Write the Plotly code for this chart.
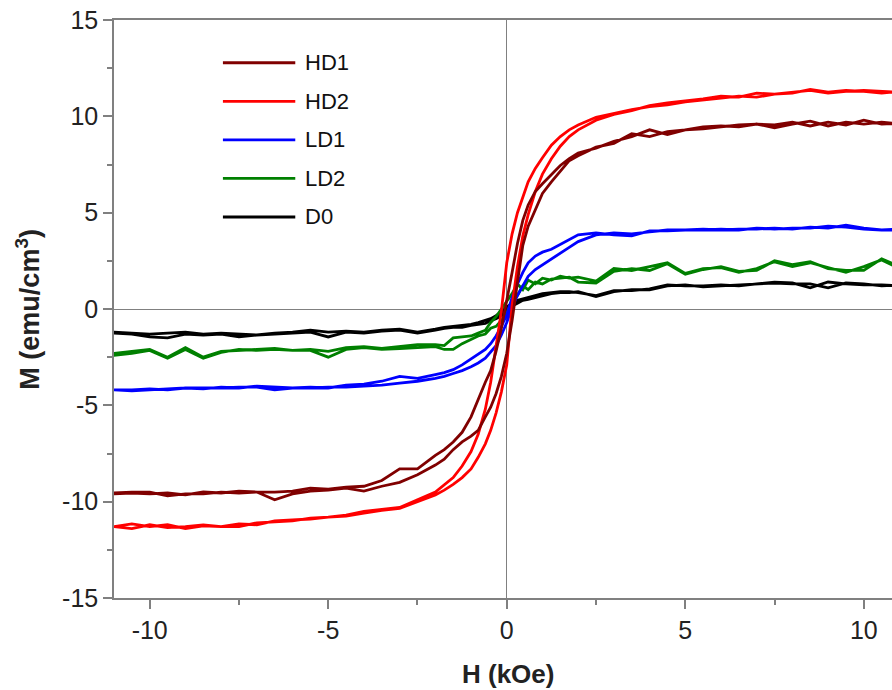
import plotly.graph_objects as go

# field grid (kOe), shared by both branches of every loop
H = [-11, -10.5, -10, -9.5, -9, -8.5, -8, -7.5, -7, -6.5, -6, -5.5, -5, -4.5, -4, -3.5, -3, -2.5, -2,
     -1.75, -1.5, -1.25, -1, -0.8, -0.6, -0.45, -0.3, -0.15, 0, 0.15, 0.3, 0.45, 0.6, 0.8, 1, 1.25, 1.5, 1.75,
     2, 2.5, 3, 3.5, 4, 4.5, 5, 5.5, 6, 6.5, 7, 7.5, 8, 8.5, 9, 9.5, 10, 10.5, 11]

# magnetisation (emu/cm3): *_down = branch swept from +H to -H, *_up = branch swept from -H to +H
HD1_down = [-9.55, -9.5, -9.5, -9.7, -9.6, -9.6, -9.5, -9.55, -9.5, -9.5, -9.45, -9.3, -9.35, -9.25, -9.2, -8.9,
            -8.3, -8.3, -7.6, -7.3, -6.9, -6.4, -5.6, -4.7, -3.8, -3.2, -2.2, -1.0, 0.5, 1.9, 3.4, 4.6, 5.4, 6.1,
            6.5, 7.0, 7.45, 7.8, 8.1, 8.35, 8.7, 8.95, 9.3, 9.05, 9.3, 9.45, 9.5, 9.45, 9.6, 9.55, 9.7, 9.5, 9.7,
            9.55, 9.8, 9.6, 9.65]
HD1_up = [-9.6, -9.55, -9.6, -9.55, -9.65, -9.5, -9.55, -9.45, -9.5, -9.9, -9.6, -9.45, -9.4, -9.3, -9.45, -9.2,
          -9.0, -8.6, -8.1, -7.8, -7.3, -6.9, -6.6, -6.3, -5.6, -5.1, -4.4, -3.5, -2.3, -0.6, 1.4, 3.3, 4.3, 5.2,
          6.0, 6.6, 7.15, 7.7, 7.95, 8.4, 8.6, 9.1, 8.95, 9.2, 9.3, 9.35, 9.45, 9.55, 9.6, 9.4, 9.6, 9.75, 9.5,
          9.7, 9.6, 9.7, 9.6]

HD2_down = [-11.3, -11.15, -11.3, -11.2, -11.4, -11.25, -11.3, -11.3, -11.1, -11.05, -11.0, -10.85, -10.8,
            -10.7, -10.5, -10.4, -10.3, -9.9, -9.5, -9.15, -8.75, -8.15, -7.4, -6.5, -5.2, -3.8, -2.0, -0.1,
            2.4, 3.9, 5.0, 5.8, 6.6, 7.3, 7.85, 8.5, 8.95, 9.3, 9.55, 9.95, 10.15, 10.35, 10.5, 10.6, 10.75,
            10.85, 10.95, 11.05, 11.0, 11.15, 11.25, 11.35, 11.2, 11.3, 11.35, 11.3, 11.25]
HD2_up = [-11.3, -11.4, -11.2, -11.35, -11.3, -11.2, -11.3, -11.15, -11.2, -11.0, -10.95, -10.9, -10.8, -10.75,
          -10.6, -10.45, -10.35, -10.0, -9.65, -9.4, -9.1, -8.75, -8.3, -7.7, -7.0, -6.3, -5.4, -4.3, -2.9, 0.2,
          2.2, 3.8, 4.9, 6.1, 7.0, 7.8, 8.45, 8.95, 9.3, 9.8, 10.1, 10.3, 10.55, 10.7, 10.8, 10.9, 11.05, 11.0,
          11.2, 11.15, 11.2, 11.4, 11.25, 11.35, 11.3, 11.2, 11.3]

LD1_down = [-4.2, -4.25, -4.2, -4.15, -4.1, -4.15, -4.05, -4.1, -4.0, -4.05, -4.1, -4.05, -4.1, -3.95, -3.9,
            -3.75, -3.5, -3.6, -3.4, -3.3, -3.15, -2.9, -2.6, -2.35, -2.1, -1.8, -1.4, -0.9, -0.3, 0.6, 1.3, 1.9,
            2.4, 2.75, 2.95, 3.1, 3.35, 3.6, 3.85, 3.95, 3.85, 3.8, 4.05, 4.05, 4.1, 4.15, 4.1, 4.15, 4.15, 4.2,
            4.15, 4.25, 4.2, 4.35, 4.2, 4.1, 4.15]
LD1_up = [-4.2, -4.2, -4.15, -4.2, -4.1, -4.1, -4.1, -4.05, -4.05, -4.2, -4.1, -4.1, -4.05, -4.05, -4.0, -3.95,
          -3.85, -3.75, -3.6, -3.5, -3.35, -3.2, -3.0, -2.8, -2.55, -2.25, -1.9, -1.35, -0.7, 0.1, 0.7, 1.2,
          1.7, 2.05, 2.3, 2.6, 2.9, 3.2, 3.5, 3.85, 3.95, 3.9, 4.0, 4.1, 4.1, 4.1, 4.15, 4.1, 4.2, 4.15, 4.2,
          4.2, 4.3, 4.25, 4.15, 4.1, 4.1]

LD2_down = [-2.3, -2.2, -2.1, -2.5, -2.0, -2.5, -2.2, -2.15, -2.1, -2.05, -2.15, -2.1, -2.2, -2.0, -1.95, -2.05,
            -1.95, -1.85, -1.85, -1.9, -1.5, -1.45, -1.4, -1.25, -1.1, -0.7, -0.4, 0.0, 0.4, 0.8, 1.3, 1.0, 1.5,
            1.3, 1.6, 1.5, 1.7, 1.6, 1.65, 1.45, 2.1, 2.0, 2.2, 2.4, 1.85, 2.1, 2.15, 1.9, 2.1, 2.45, 2.2, 2.4,
            2.15, 1.9, 2.2, 2.55, 2.1]
LD2_up = [-2.4, -2.3, -2.15, -2.55, -2.1, -2.55, -2.25, -2.1, -2.15, -2.1, -2.15, -2.15, -2.5, -2.1, -2.0, -2.1,
          -2.05, -2.0, -1.95, -2.1, -2.1, -1.8, -1.6, -1.4, -1.3, -1.0, -0.9, -0.6, -0.2, 0.4, 0.7, 1.2, 1.0,
          1.4, 1.3, 1.55, 1.6, 1.65, 1.4, 1.35, 1.95, 2.1, 2.0, 2.35, 1.8, 2.05, 2.2, 1.95, 2.0, 2.5, 2.3, 2.45,
          2.1, 2.0, 2.0, 2.6, 2.2]

D0_down = [-1.2, -1.25, -1.3, -1.25, -1.2, -1.3, -1.25, -1.3, -1.35, -1.25, -1.2, -1.1, -1.2, -1.15, -1.2, -1.1,
           -1.05, -1.2, -1.05, -0.95, -0.9, -0.85, -0.8, -0.7, -0.6, -0.5, -0.35, -0.15, 0.1, 0.3, 0.45, 0.55,
           0.6, 0.7, 0.8, 0.85, 0.9, 0.9, 0.85, 0.7, 0.95, 0.95, 1.05, 1.25, 1.2, 1.2, 1.25, 1.2, 1.3, 1.4, 1.35,
           1.1, 1.4, 1.3, 1.25, 1.25, 1.2]
D0_up = [-1.25, -1.3, -1.45, -1.5, -1.3, -1.35, -1.3, -1.45, -1.35, -1.3, -1.25, -1.2, -1.45, -1.2, -1.25, -1.15,
         -1.1, -1.25, -1.1, -1.0, -0.95, -0.95, -0.85, -0.8, -0.75, -0.6, -0.5, -0.35, -0.1, 0.15, 0.3, 0.45,
         0.5, 0.6, 0.7, 0.8, 0.85, 0.85, 0.9, 0.65, 0.9, 1.0, 1.0, 1.2, 1.25, 1.15, 1.2, 1.25, 1.3, 1.35, 1.3,
         1.3, 1.1, 1.35, 1.3, 1.2, 1.25]

names = ['HD1', 'HD2', 'LD1', 'LD2', 'D0']
colors = ['#800000', '#ff0000', '#0000ff', '#008000', '#000000']
branches = [(HD1_down, HD1_up), (HD2_down, HD2_up), (LD1_down, LD1_up), (LD2_down, LD2_up), (D0_down, D0_up)]

x_ticks = [-10, -5, 0, 5, 10]
x_ticktext = ['-10', '-5', '0', '5', '10']
y_ticks = [-15, -10, -5, 0, 5, 10, 15]
y_ticktext = ['-15', '-10', '-5', '0', '5', '10', '15']

font = 'Arial, Liberation Sans, sans-serif'
axis_grey = '#808080'

fig = go.Figure()
# draw D0 first so the strong loops sit on top
for name, col, (down, up) in reversed(list(zip(names, colors, branches))):
    fig.add_trace(go.Scatter(x=H[::-1] + H, y=down[::-1] + up, mode='lines', name=name,
                             line=dict(color=col, width=2.8), showlegend=False))

# hand made legend (long line samples like the original)
for i, (name, col) in enumerate(zip(names, colors)):
    yp = 0.926 - i * 0.0667
    fig.add_shape(type='line', xref='paper', yref='paper', x0=0.140, x1=0.233, y0=yp, y1=yp,
                  line=dict(color=col, width=2.8))
    fig.add_annotation(xref='paper', yref='paper', x=0.243, y=yp, text=name, showarrow=False,
                       xanchor='left', yanchor='middle', font=dict(family=font, size=22, color='#111'))

# axis titles
fig.add_annotation(xref='paper', yref='paper', x=0.506, y=-0.131, text='<b>H (kOe)</b>', showarrow=False,
                   xanchor='center', yanchor='middle', font=dict(family=font, size=26, color='#222'))
fig.add_annotation(xref='paper', yref='paper', x=-0.111, y=0.5, text='<b>M (emu/cm<sup>3</sup>)</b>',
                   showarrow=False, textangle=-90, xanchor='center', yanchor='middle',
                   font=dict(family=font, size=27, color='#222'))

fig.update_layout(
    width=892, height=690,
    margin=dict(l=114, r=0, t=20, b=92, autoexpand=False),
    plot_bgcolor='white', paper_bgcolor='white',
    font=dict(family=font, size=25, color='#222'),
)
fig.update_xaxes(
    range=[-11, 10.79], showgrid=False, automargin=False,
    tickvals=x_ticks, ticktext=x_ticktext,
    ticks='outside', ticklen=9, tickwidth=1.5, tickcolor=axis_grey,
    minor=dict(tickvals=[-7.5, -2.5, 2.5, 7.5], ticks='outside', ticklen=5, tickwidth=1.5, tickcolor=axis_grey),
    showline=True, linecolor=axis_grey, linewidth=1.5, mirror=True,
    zeroline=True, zerolinecolor=axis_grey, zerolinewidth=1.2,
)
fig.update_yaxes(
    range=[-15, 15], showgrid=False, automargin=False,
    tickvals=y_ticks, ticktext=y_ticktext,
    ticks='outside', ticklen=9, tickwidth=1.5, tickcolor=axis_grey,
    minor=dict(tickvals=[-12.5, -7.5, -2.5, 2.5, 7.5, 12.5], ticks='outside', ticklen=5, tickwidth=1.5,
               tickcolor=axis_grey),
    showline=True, linecolor=axis_grey, linewidth=1.5, mirror=False,
    zeroline=True, zerolinecolor=axis_grey, zerolinewidth=1.2,
)

# page body has a default 8px margin, drop it so the figure sits at the window corner
fig.write_html("out.html", config={'displayModeBar': False},
               post_script="document.body.style.margin='0px';")
